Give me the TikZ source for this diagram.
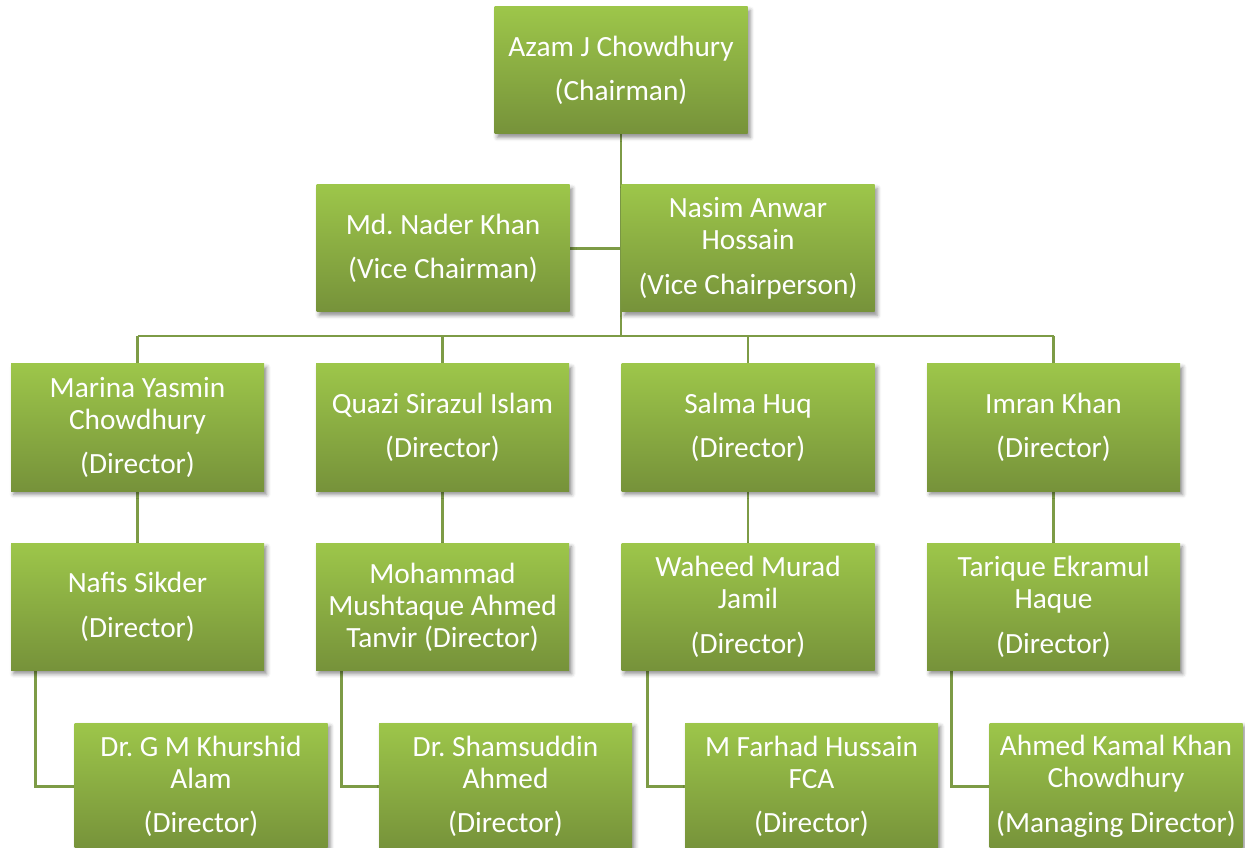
\documentclass[tikz,border=0pt]{standalone}
\usepackage{fontspec}
\setmainfont{Carlito}
\usetikzlibrary{shadows.blur,backgrounds}
\definecolor{gtop}{RGB}{157,198,74}
\definecolor{gbot}{RGB}{118,146,58}
\definecolor{linec}{RGB}{125,155,70}
\frenchspacing
\tikzset{
  box/.style={rectangle, minimum width=189.75pt, minimum height=95.25pt, inner sep=0pt,
    top color=gtop, bottom color=gbot, draw=none, text=white, align=center,
    font=\fontsize{22}{24}\selectfont,
    blur shadow={shadow xshift=2pt, shadow yshift=-2.5pt, shadow blur radius=3pt, shadow opacity=45}},
  conn/.style={draw=linec, line width=2.2pt}
}
\newcommand{\rg}{\\[9.5pt]}
\begin{document}
\begin{tikzpicture}[x=0.75pt,y=-0.75pt]
\path[use as bounding box] (0,0) rectangle (1245,848);
\clip (0,0) rectangle (1245,848);
\node[box] (chair) at (621,70.5) {Azam J Chowdhury\rg(Chairman)};
\node[box] (vc1) at (443,248.5) {Md. Nader Khan\rg(Vice Chairman)};
\node[box] (vc2) at (748,248.5) {Nasim Anwar\\Hossain\rg(Vice Chairperson)};
\node[box] (r3a) at (137.5,427.5) {Marina Yasmin\\Chowdhury\rg(Director)};
\node[box] (r3b) at (442.5,427.5) {Quazi Sirazul Islam\rg(Director)};
\node[box] (r3c) at (748,427.5) {Salma Huq\rg(Director)};
\node[box] (r3d) at (1053.5,427.5) {Imran Khan\rg(Director)};
\node[box] (r4a) at (137.5,607) {Nafis Sikder\rg(Director)};
\node[box] (r4b) at (442.5,607) {Mohammad\\Mushtaque Ahmed\\Tanvir (Director)};
\node[box] (r4c) at (748,607) {Waheed Murad\\Jamil\rg(Director)};
\node[box] (r4d) at (1053.5,607) {Tarique Ekramul\\Haque\rg(Director)};
\node[box] (r5a) at (201,786.5) {Dr. G M Khurshid\\Alam\rg(Director)};
\node[box] (r5b) at (505.5,786.5) {Dr. Shamsuddin\\Ahmed\rg(Director)};
\node[box] (r5c) at (811.5,786.5) {M Farhad Hussain\\FCA\rg(Director)};
\node[box] (r5d) at (1116,786.5) {Ahmed Kamal Khan\\Chowdhury\rg(Managing Director)};
\coordinate (bus) at (621,336);
\begin{scope}[on background layer]
\draw[conn] (chair.south) -- (bus);
\draw[conn] (vc1.east) -- (vc1.east -| chair.south);
\draw[conn] (bus -| r3a.north) -- (bus -| r3d.north);
\foreach \n in {r3a,r3b,r3c,r3d}{\draw[conn] (bus -| \n.north) -- (\n.north);}
\draw[conn] (r3a.south) -- (r4a.north);
\draw[conn] (r3b.south) -- (r4b.north);
\draw[conn] (r3c.south) -- (r4c.north);
\draw[conn] (r3d.south) -- (r4d.north);
\draw[conn] ([xshift=18.75pt]r4a.south west) |- (r5a.west);
\draw[conn] ([xshift=19.5pt]r4b.south west) |- (r5b.west);
\draw[conn] ([xshift=20pt]r4c.south west) |- (r5c.west);
\draw[conn] ([xshift=18.75pt]r4d.south west) |- (r5d.west);
\end{scope}
\end{tikzpicture}
\end{document}
